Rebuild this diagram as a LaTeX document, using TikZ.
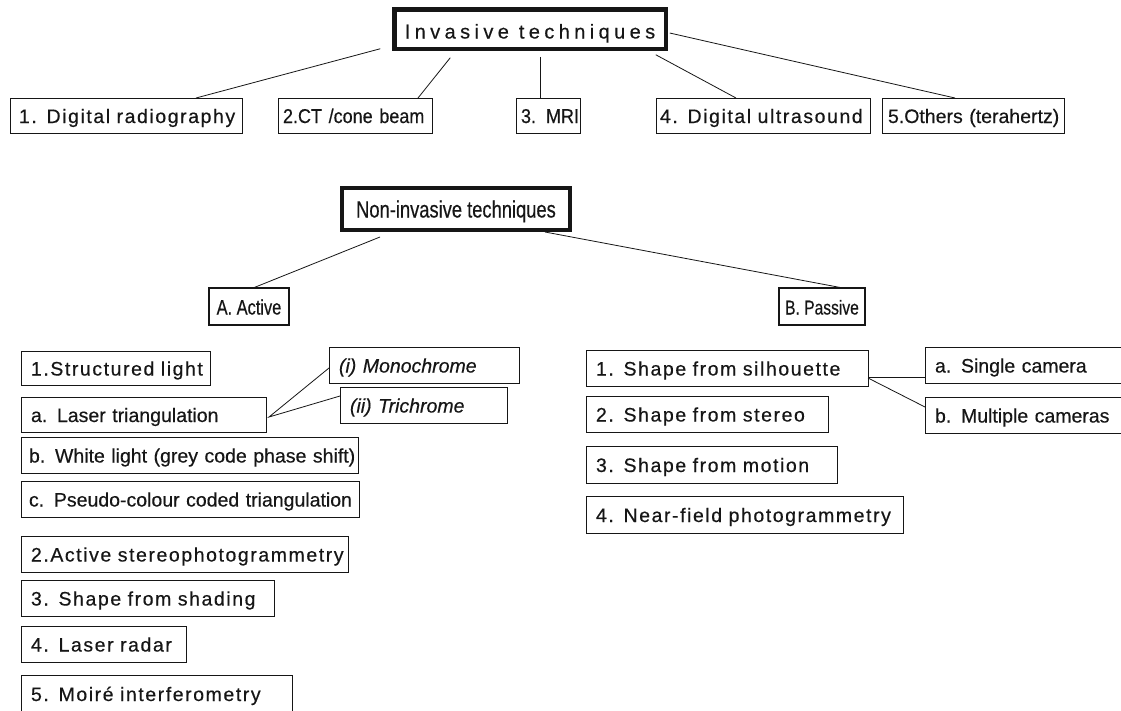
\documentclass[tikz,border=0pt]{standalone}
\usepackage{fontspec}
\setmainfont{Liberation Sans}[FakeBold=0.4]
\newfontfamily\trackfont[LetterSpace=8,FakeBold=0.4]{Liberation Sans}
\newfontfamily\widefont[LetterSpace=22,FakeBold=0.4]{Liberation Sans}
\newfontfamily\narrowfont[FakeStretch=0.78,FakeBold=0.4]{Liberation Sans}
\newfontfamily\slimfont[FakeStretch=0.9,FakeBold=0.4]{Liberation Sans}
\usepackage{xcolor}
\usepackage{tikz}
\definecolor{inkline}{HTML}{161616}
\tikzset{
  every node/.append style={outer sep=0pt, text=inkline},
  headbox/.style={draw=inkline, line width=4.5pt, inner sep=0pt, anchor=north west, text depth=0pt},
  groupbox/.style={draw=inkline, line width=1.8pt, inner sep=0pt, anchor=north west, minimum height=37pt,
    text height=16pt, text depth=0pt, font=\narrowfont\fontsize{21}{24}\selectfont},
  itembox/.style={draw=inkline, line width=0.9pt, inner xsep=10pt, inner ysep=0pt, anchor=north west,
    minimum height=36pt, text height=15pt, text depth=0pt, text width=#1,
    execute at begin node=\hbox\bgroup, execute at end node=\egroup},
  spaced/.style={font=\trackfont\fontsize{19.5}{22}\selectfont},
  plain/.style={font=\fontsize{19.5}{22}\selectfont},
  slim/.style={font=\slimfont\fontsize{20}{22}\selectfont},
  link/.style={draw=inkline, line width=0.8pt}
}
\begin{document}
\begin{tikzpicture}[x=1pt,y=-1pt]
  \useasboundingbox (0,0) rectangle (1121,710);
  \clip (0,0) rectangle (1121,710);
  \fill[white] (0,0) rectangle (1121,710);
  % invasive
  \node[headbox, minimum width=271.5pt, minimum height=39.5pt, text height=19pt,
    font=\widefont\fontsize{20}{22}\selectfont] (inv) at (394.25,9.25) {Invasive techniques};
  \node[itembox=214pt, spaced, inner xsep=9pt, minimum height=35pt] (rad) at (10,98) {1. Digital radiography};
  \node[itembox=144pt, slim, inner xsep=5pt, minimum height=35pt] (ct) at (278,98) {2.CT /cone beam};
  \node[itembox=54pt, slim, inner xsep=5pt, minimum height=35pt] (mri) at (516,98) {3. MRI};
  \node[itembox=206pt, spaced, inner xsep=4pt, minimum height=35pt] (us) at (656,98) {4. Digital ultrasound};
  \node[itembox=170pt, plain, inner xsep=6pt, minimum height=35pt] (oth) at (882,98) {5.Others (terahertz)};
  \draw[link] ([xshift=-14pt]inv.south west) -- ([xshift=186pt]rad.north west);
  \draw[link] ([xshift=56pt,yshift=-9pt]inv.south west) -- ([xshift=-14pt]ct.north east);
  \draw[link] ([xshift=10pt,yshift=-8pt]inv.south) -- ([xshift=-8pt]mri.north);
  \draw[link] ([xshift=-10pt,yshift=-6pt]inv.south east) -- ([xshift=80pt]us.north west);
  \draw[link] ([xshift=4pt,yshift=-4pt]inv.east) -- ([xshift=73pt]oth.north west);
  % non-invasive
  \node[headbox, line width=4pt, minimum width=228pt, minimum height=42pt, text height=17pt,
    font=\narrowfont\fontsize{23.5}{26}\selectfont] (ninv) at (342,188) {Non-invasive techniques};
  \node[groupbox, minimum width=80pt] (act) at (209,288) {A. Active};
  \node[groupbox, minimum width=86pt, font=\narrowfont\fontsize{20}{22}\selectfont] (pas) at (779,288) {B. Passive};
  \draw[link] ([xshift=38pt,yshift=-7pt]ninv.south west) -- ([xshift=44pt]act.north west);
  \draw[link] ([xshift=-25pt,yshift=-2pt]ninv.south east) -- ([xshift=64pt]pas.north west);
  % active
  \node[itembox=169pt, spaced, minimum height=34pt] (sl) at (21,351) {1.Structured light};
  \node[itembox=225pt, plain, minimum height=35pt] (lt) at (21,397) {a. Laser triangulation};
  \node[itembox=321pt, plain, inner xsep=8pt] (wl) at (21,437) {b. White light (grey code phase shift)};
  \node[itembox=322pt, plain, inner xsep=8pt, minimum height=36pt] (pc) at (21,481) {c. Pseudo-colour coded triangulation};
  \node[itembox=170pt, plain] (mono) at (329,347) {\itshape (i) Monochrome};
  \node[itembox=147pt, plain] (tri) at (340,387) {\itshape (ii) Trichrome};
  \draw[link] ([yshift=-3pt]mono.west) -- ([xshift=3pt,yshift=-2.5pt]lt.east) -- ([yshift=9pt]tri.west);
  \node[itembox=307pt, spaced, minimum height=36pt] (as) at (21,536) {2.Active stereophotogrammetry};
  \node[itembox=233pt, spaced, minimum height=36pt] (sh) at (21,580) {3. Shape from shading};
  \node[itembox=145pt, spaced, minimum height=36pt] (lr) at (21,626) {4. Laser radar};
  \node[itembox=251pt, spaced, minimum height=37pt] (mo) at (21,675) {5. Moiré interferometry};
  % passive
  \node[itembox=262pt, spaced] (sil) at (586,350) {1. Shape from silhouette};
  \node[itembox=222pt, spaced] (ste) at (586,396) {2. Shape from stereo};
  \node[itembox=231pt, spaced, minimum height=37pt] (mot) at (586,446) {3. Shape from motion};
  \node[itembox=297pt, spaced, minimum height=37pt] (nf) at (586,496) {4. Near-field photogrammetry};
  \node[itembox=200pt, plain] (sc) at (925,347) {a. Single camera};
  \node[itembox=200pt, plain] (mc) at (925,397) {b. Multiple cameras};
  \draw[link] ([yshift=-9pt]sil.east) -- ([yshift=-12pt]sc.west);
  \draw[link] ([yshift=-10pt]sil.east) -- ([yshift=8pt]mc.west);
\end{tikzpicture}
\end{document}
